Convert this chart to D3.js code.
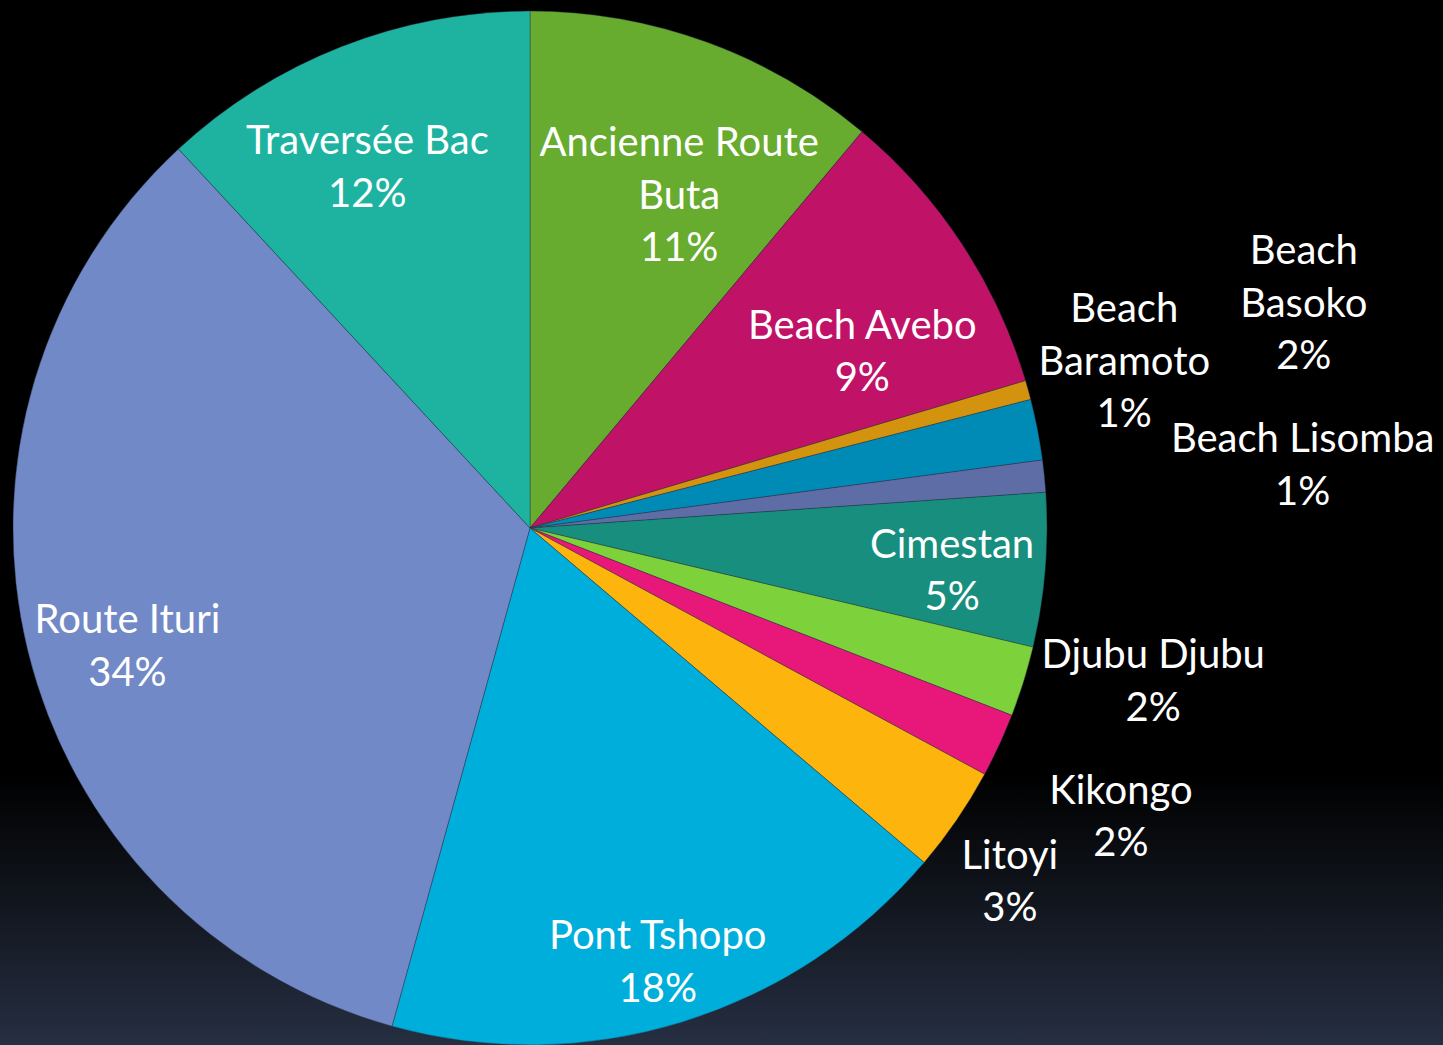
<!DOCTYPE html>
<html>
<head>
<meta charset="utf-8">
<script src="https://cdn.jsdelivr.net/npm/d3@7"></script>
<style>
  html, body { margin: 0; padding: 0; background: #000; }
  svg { display: block; }
</style>
</head>
<body>
<svg id="chart"></svg>
<script>
const categories = ["Ancienne Route Buta", "Beach Avebo", "Beach Baramoto", "Beach Basoko",
  "Beach Lisomba", "Cimestan", "Djubu Djubu", "Kikongo", "Litoyi", "Pont Tshopo",
  "Route Ituri", "Traversée Bac"];
const values = [11.1, 9.3, 0.6, 1.9, 1.0, 4.8, 2.2, 2.0, 3.3, 18.1, 33.8, 11.9];
const percentLabels = ["11%", "9%", "1%", "2%", "1%", "5%", "2%", "2%", "3%", "18%", "34%", "12%"];
const colors = ["#67ab2f", "#c01266", "#d4930f", "#008bb6", "#5e6da6", "#178e7e",
  "#7dd13a", "#e8177a", "#fdb50e", "#00aedb", "#7289c7", "#1db3a0"];

// label text lines for each slice
const labelLines = [
  ["Ancienne Route", "Buta"], ["Beach Avebo"], ["Beach", "Baramoto"], ["Beach", "Basoko"],
  ["Beach Lisomba"], ["Cimestan"], ["Djubu Djubu"], ["Kikongo"], ["Litoyi"],
  ["Pont Tshopo"], ["Route Ituri"], ["Traversée Bac"]
];
// label placement: radius factor, angle nudge (degrees)
const labelRadius = [0.71, 0.73, 1.195, 1.56, 1.50, 0.82, 1.24, 1.27, 1.15, 0.87, 0.81, 0.77];
const labelNudge = [4, 5, -0.4, -5.4, 0.9, 0.7, -3.7, 1, 1.8, 0.6, -2.3, -2.7];

const width = 1443, height = 1045;
const cx = 530, cy = 528, R = 517;
const fontSize = 40, lineH = 52.5;

const svg = d3.select("#chart").attr("width", width).attr("height", height);

const defs = svg.append("defs");
const grad = defs.append("linearGradient").attr("id", "bg")
  .attr("x1", 0).attr("y1", 0).attr("x2", 0).attr("y2", 1);
grad.append("stop").attr("offset", "0").attr("stop-color", "#000");
grad.append("stop").attr("offset", "0.74").attr("stop-color", "#000");
grad.append("stop").attr("offset", "0.86").attr("stop-color", "#11151d");
grad.append("stop").attr("offset", "1").attr("stop-color", "#262e42");
svg.append("rect").attr("width", width).attr("height", height).attr("fill", "url(#bg)");

const pie = d3.pie().sort(null).value(d => d);
const arcs = pie(values);
const arc = d3.arc().innerRadius(0).outerRadius(R);

const g = svg.append("g").attr("transform", `translate(${cx},${cy})`);

g.selectAll("path.slice")
  .data(arcs)
  .join("path")
  .attr("class", "slice")
  .attr("d", arc)
  .attr("fill", (d, i) => colors[i])
  .attr("stroke", "rgba(40,50,70,0.5)")
  .attr("stroke-width", 0.8);

const labels = g.selectAll("text.lbl")
  .data(arcs)
  .join("text")
  .attr("class", "lbl")
  .attr("font-family", "Lato, 'Open Sans', sans-serif")
  .attr("font-size", fontSize)
  .attr("fill", "#fff")
  .attr("text-anchor", "middle")
  .each(function (d, i) {
    const mid = (d.startAngle + d.endAngle) / 2 + labelNudge[i] * Math.PI / 180;
    const r = R * labelRadius[i];
    const x = r * Math.sin(mid);
    const y = -r * Math.cos(mid);
    const lines = labelLines[i].concat([percentLabels[i]]);
    const top = y - (lines.length - 1) * lineH / 2;
    const t = d3.select(this);
    lines.forEach((ln, k) => {
      t.append("tspan")
        .attr("x", x)
        .attr("y", top + k * lineH)
        .attr("dy", "0.4em")
        .text(ln);
    });
  });
</script>
</body>
</html>
